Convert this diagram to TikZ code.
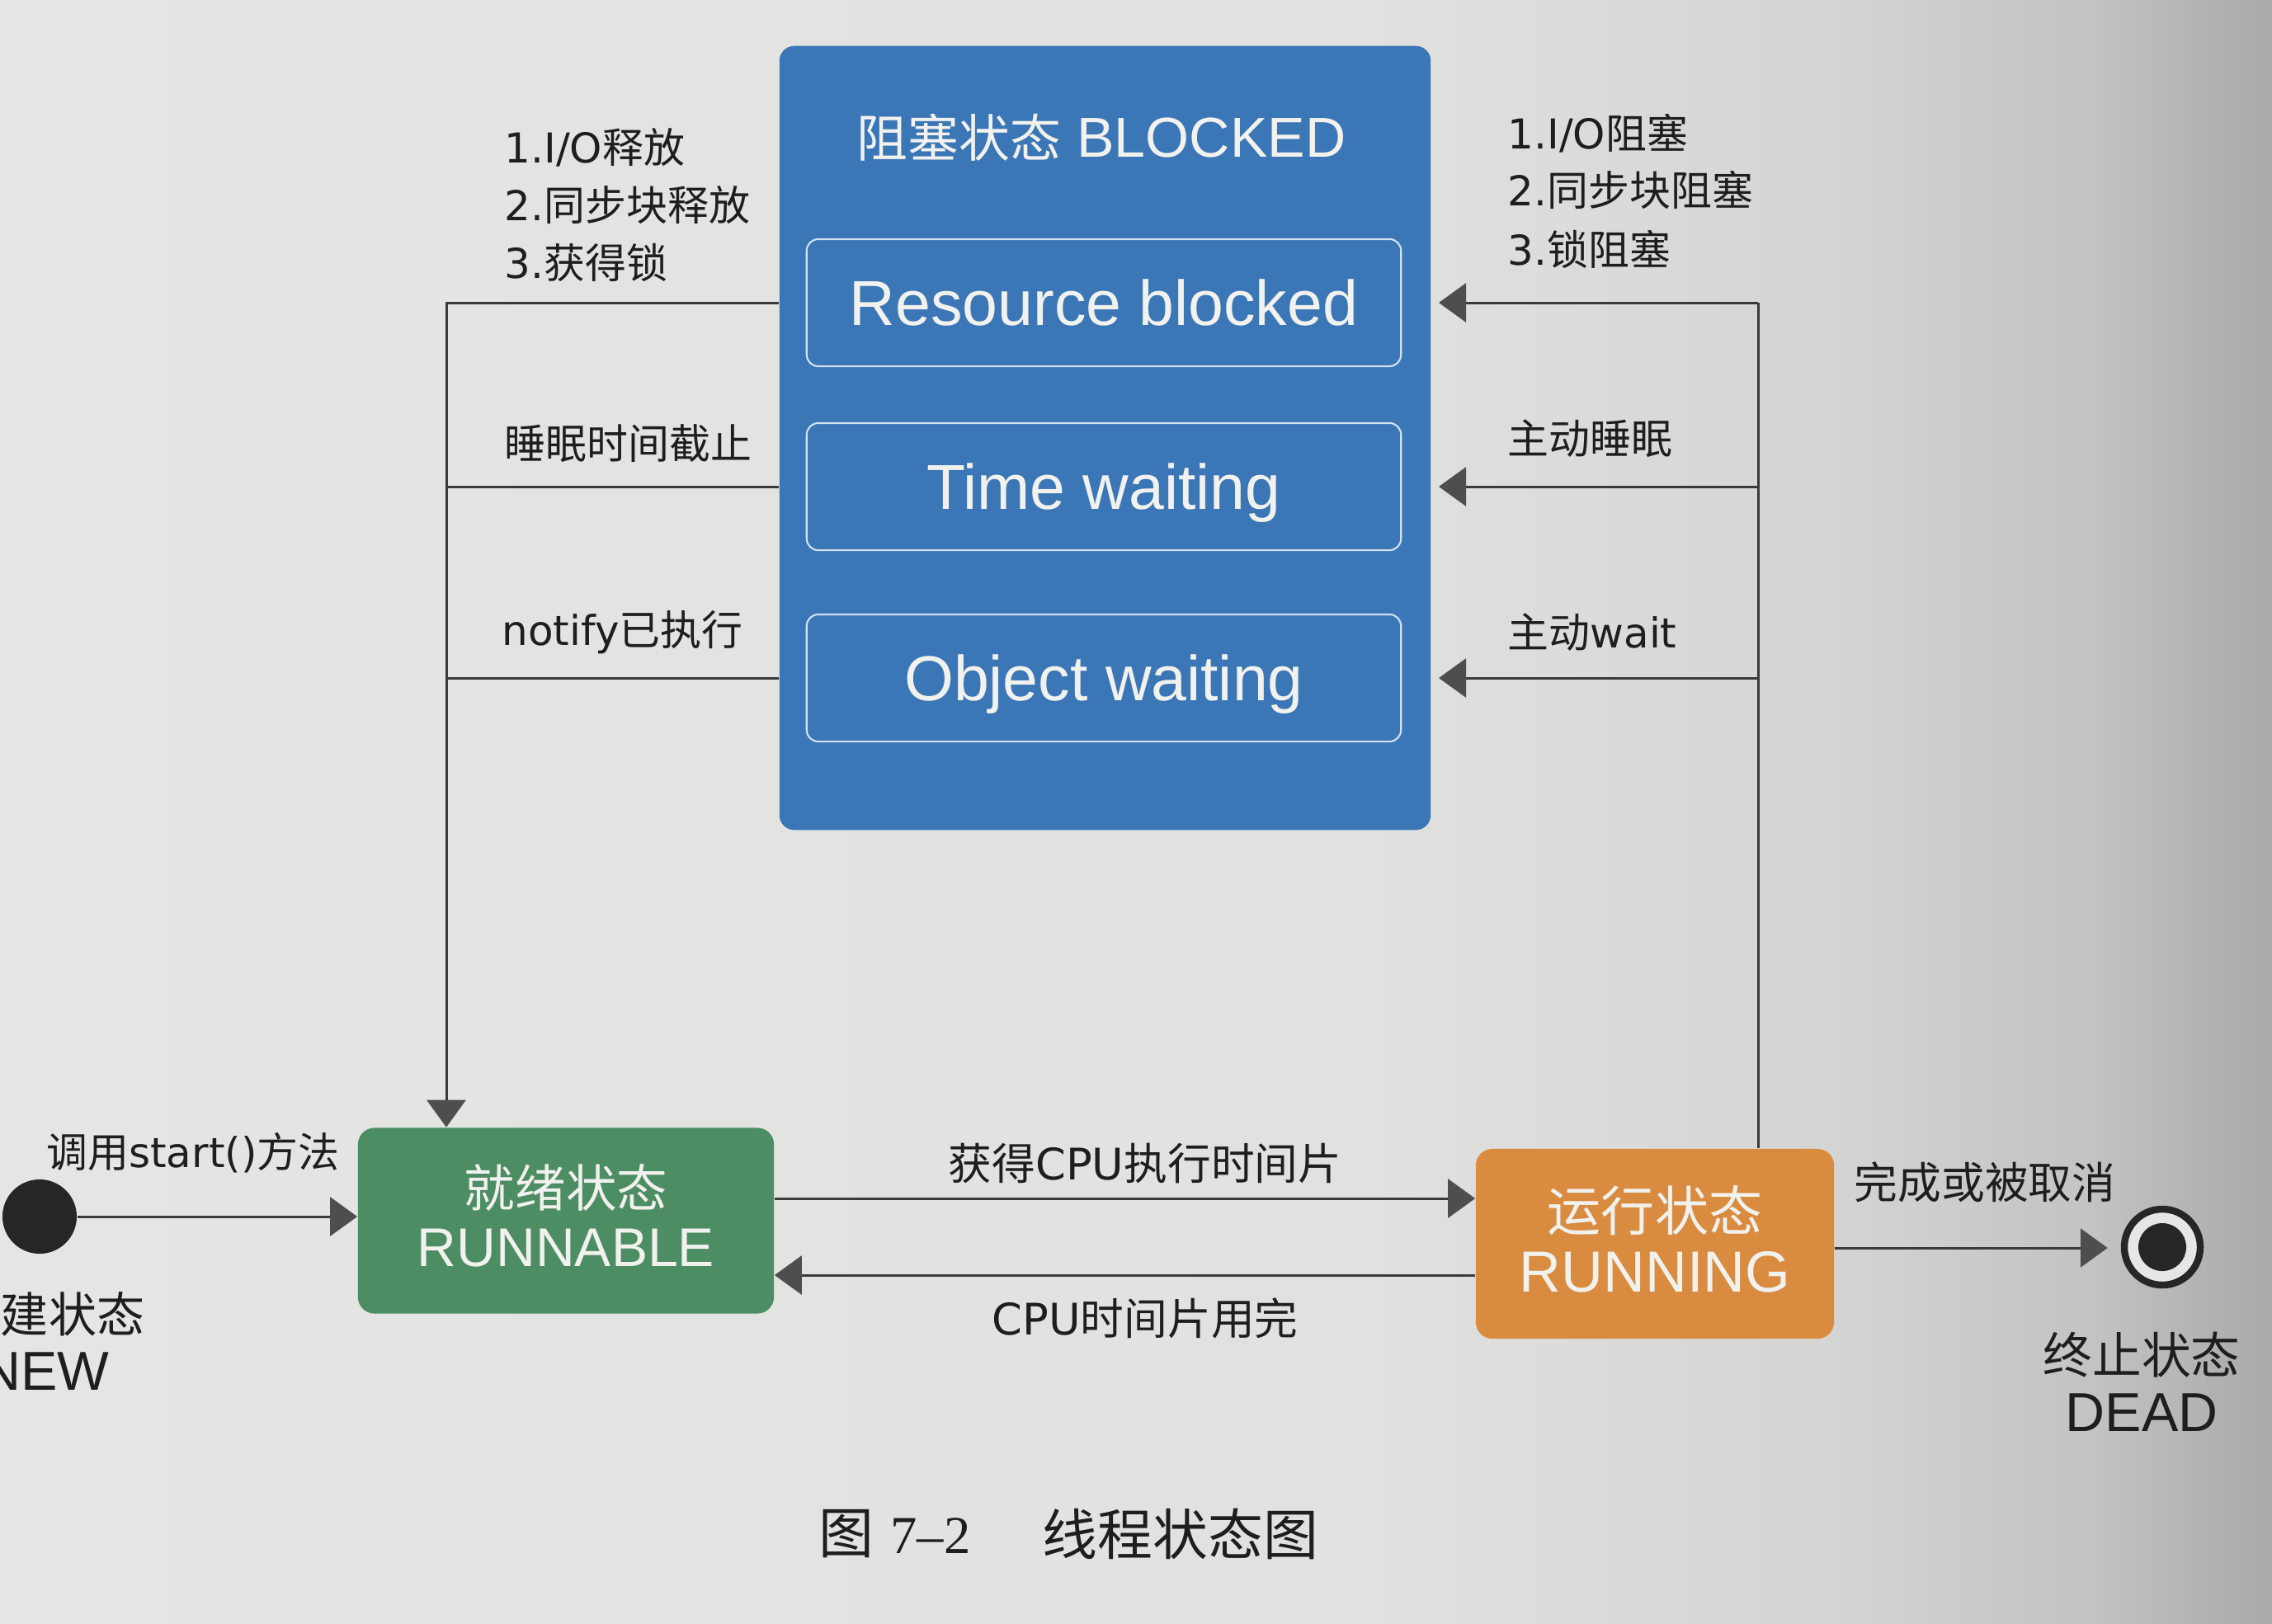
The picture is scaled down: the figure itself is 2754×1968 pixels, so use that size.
\documentclass[tikz,border=0pt]{standalone}
\usepackage{fontspec}
\setmainfont{Liberation Sans}
\newfontfamily\cjk{Noto Sans CJK SC}
\newfontfamily\dv{DejaVu Sans}
\newfontfamily\ser{Liberation Serif}
\usetikzlibrary{arrows.meta}
\definecolor{blk}{HTML}{3B76B6}
\definecolor{grn}{HTML}{4D8D63}
\definecolor{org}{HTML}{D98C40}
\definecolor{inb}{HTML}{D3E2F2}
\definecolor{linec}{HTML}{3A3A3A}
\definecolor{tipc}{HTML}{4E4E4E}
\definecolor{txt}{HTML}{1E1E1E}
\definecolor{wtxt}{HTML}{F1F1EE}
\definecolor{dotc}{HTML}{262626}
\definecolor{pA}{HTML}{E5E5E3}
\definecolor{pB}{HTML}{E1E1DF}
\definecolor{pC}{HTML}{D5D5D3}
\definecolor{pD}{HTML}{C3C3C1}
\definecolor{pE}{HTML}{A9A9A7}
\pgfdeclarehorizontalshading{paper}{100bp}{color(0bp)=(pA); color(25bp)=(pA); color(55bp)=(pB); color(65bp)=(pC); color(71bp)=(pD); color(75bp)=(pE); color(100bp)=(pE)}
\newcommand\lsz{\fontsize{14.2pt}{17pt}\selectfont}
\newcommand\msz{\fontsize{15pt}{18pt}\selectfont}
\begin{document}
\begin{tikzpicture}[x=0.01cm,y=-0.01cm,
  conn/.style={draw=linec, line width=0.85pt},
  arr/.style={-{Triangle[length=0.33cm,width=0.47cm,color=tipc]}},
  bigbox/.style={fill=blk, rounded corners=0.18cm, minimum width=7.89cm, minimum height=9.5cm, inner sep=0},
  subbox/.style={draw=inb, line width=0.6pt, rounded corners=0.14cm, minimum width=7.2cm, minimum height=1.54cm, text=wtxt, font=\fontsize{21.9pt}{26pt}\selectfont, inner sep=0, text height=15.7pt, text depth=0pt},
  statebox/.style={rounded corners=0.2cm, inner sep=0},
  lbl/.style={font=\lsz\cjk, text=txt, inner sep=0, anchor=west},
  mlbl/.style={font=\msz\cjk, text=txt, inner sep=0},
  wtext/.style={text=wtxt, inner sep=0},
  btext/.style={text=txt, inner sep=0}]
\useasboundingbox (0,0) rectangle (2754,1968);
\shade[shading=paper] (0,0) rectangle (2754,1968);

% blocked state
\node[bigbox] (blocked) at (1339.5,531) {};
\node[wtext, font=\fontsize{19.4pt}{22pt}\selectfont] (btitle) at (1335,167) {{\cjk\fontsize{17.6pt}{20pt}\selectfont 阻塞状态} BLOCKED};
\node[subbox] (rb) at (1338,367) {Resource blocked};
\node[subbox] (tw) at (1338,590) {Time waiting};
\node[subbox] (ow) at (1338,822) {Object waiting};

% runnable / running
\node[statebox, fill=grn, minimum width=5.04cm, minimum height=2.25cm] (runnable) at (686,1480) {};
\node[wtext, font=\fontsize{17.5pt}{20pt}\cjk] (rnbzh) at (686,1440) {就绪状态};
\node[wtext, font=\fontsize{18.8pt}{22pt}\selectfont] (rnben) at (686,1513) {RUNNABLE};
\node[statebox, fill=org, minimum width=4.34cm, minimum height=2.3cm] (running) at (2006,1508) {};
\node[wtext, font=\fontsize{18.5pt}{21pt}\cjk] (rngzh) at (2006,1468) {运行状态};
\node[wtext, font=\fontsize{20pt}{23pt}\selectfont] (rngen) at (2006,1542) {RUNNING};

% start and end
\node[circle, fill=dotc, minimum size=0.9cm, inner sep=0] (start) at (48,1475) {};
\node[btext, font=\fontsize{16.5pt}{19pt}\cjk] (newzh) at (59,1593) {新建状态};
\node[btext, font=\fontsize{18.9pt}{22pt}\selectfont] (newen) at (55,1663) {NEW};
\node[circle, draw=dotc, line width=2.4pt, fill=pC!60!white, minimum size=0.92cm, inner sep=0] (endc) at (2621,1512) {};
\node[circle, fill=dotc, minimum size=0.58cm, inner sep=0] (enddot) at (endc.center) {};
\node[btext, font=\fontsize{17pt}{20pt}\cjk] (deadzh) at (2596,1643) {终止状态};
\node[btext, font=\fontsize{18.9pt}{22pt}\selectfont] (deaden) at (2596,1713) {DEAD};

% helper coordinates
\coordinate (lx) at (541,0);
\coordinate (rx) at (2131,0);
\coordinate (rtip) at (1744,0);
\coordinate (ya) at (0,1453);
\coordinate (yb) at (0,1546);
\coordinate (ye) at (0,1513);

% left side connectors
\draw[conn,arr] (blocked.west |- rb) -- (lx |- rb) -- (lx |- runnable.north);
\draw[conn] (blocked.west |- tw) -- (lx |- tw);
\draw[conn] (blocked.west |- ow) -- (lx |- ow);

% right side connectors
\draw[conn] (rx |- running.north) -- (rx |- rb);
\draw[conn,arr] (rx |- rb) -- (rtip |- rb);
\draw[conn,arr] (rx |- tw) -- (rtip |- tw);
\draw[conn,arr] (rx |- ow) -- (rtip |- ow);

% middle connectors
\draw[conn,arr] (runnable.east |- ya) -- (running.west |- ya);
\draw[conn,arr] (running.west |- yb) -- (runnable.east |- yb);
\draw[conn,arr] (start.east) -- (start.east -| runnable.west);
\draw[conn,arr,shorten >=0.16cm] (running.east |- ye) -- (endc.west |- ye);

% left labels
\node[lbl] (l1) at (611,179) {{\dv 1.I/O}释放};
\node[lbl] (l2) at (611,249) {{\dv 2.}同步块释放};
\node[lbl] (l3) at (611,318) {{\dv 3.}获得锁};
\node[lbl] (l4) at (611,538) {睡眠时间截止};
\node[lbl] (l5) at (608,767) {{\dv notify}已执行};

% right labels
\node[lbl] (r1) at (1827,162) {{\dv 1.I/O}阻塞};
\node[lbl] (r2) at (1827,230) {{\dv 2.}同步块阻塞};
\node[lbl] (r3) at (1827,302) {{\dv 3.}锁阻塞};
\node[lbl] (r4) at (1827,532) {主动睡眠};
\node[lbl] (r5) at (1827,767) {主动{\dv wait}};

% middle labels
\node[mlbl] (m1) at (1388,1410) {获得{\dv CPU}执行时间片};
\node[mlbl] (m2) at (1388,1598) {{\dv CPU}时间片用完};
\node[font=\lsz\cjk, text=txt, inner sep=0] (m3) at (234,1398) {调用{\dv start()}方法};
\node[mlbl] (m4) at (2406,1433) {完成或被取消};

% caption
\node[btext, font=\fontsize{19pt}{22pt}\cjk] (cap1) at (1026,1860) {图};
\node[btext, font=\fontsize{18.4pt}{22pt}\ser] (cap2) at (1128,1862) {7–2};
\node[btext, font=\fontsize{19pt}{22pt}\cjk] (cap3) at (1431,1860) {线程状态图};
\end{tikzpicture}
\end{document}
